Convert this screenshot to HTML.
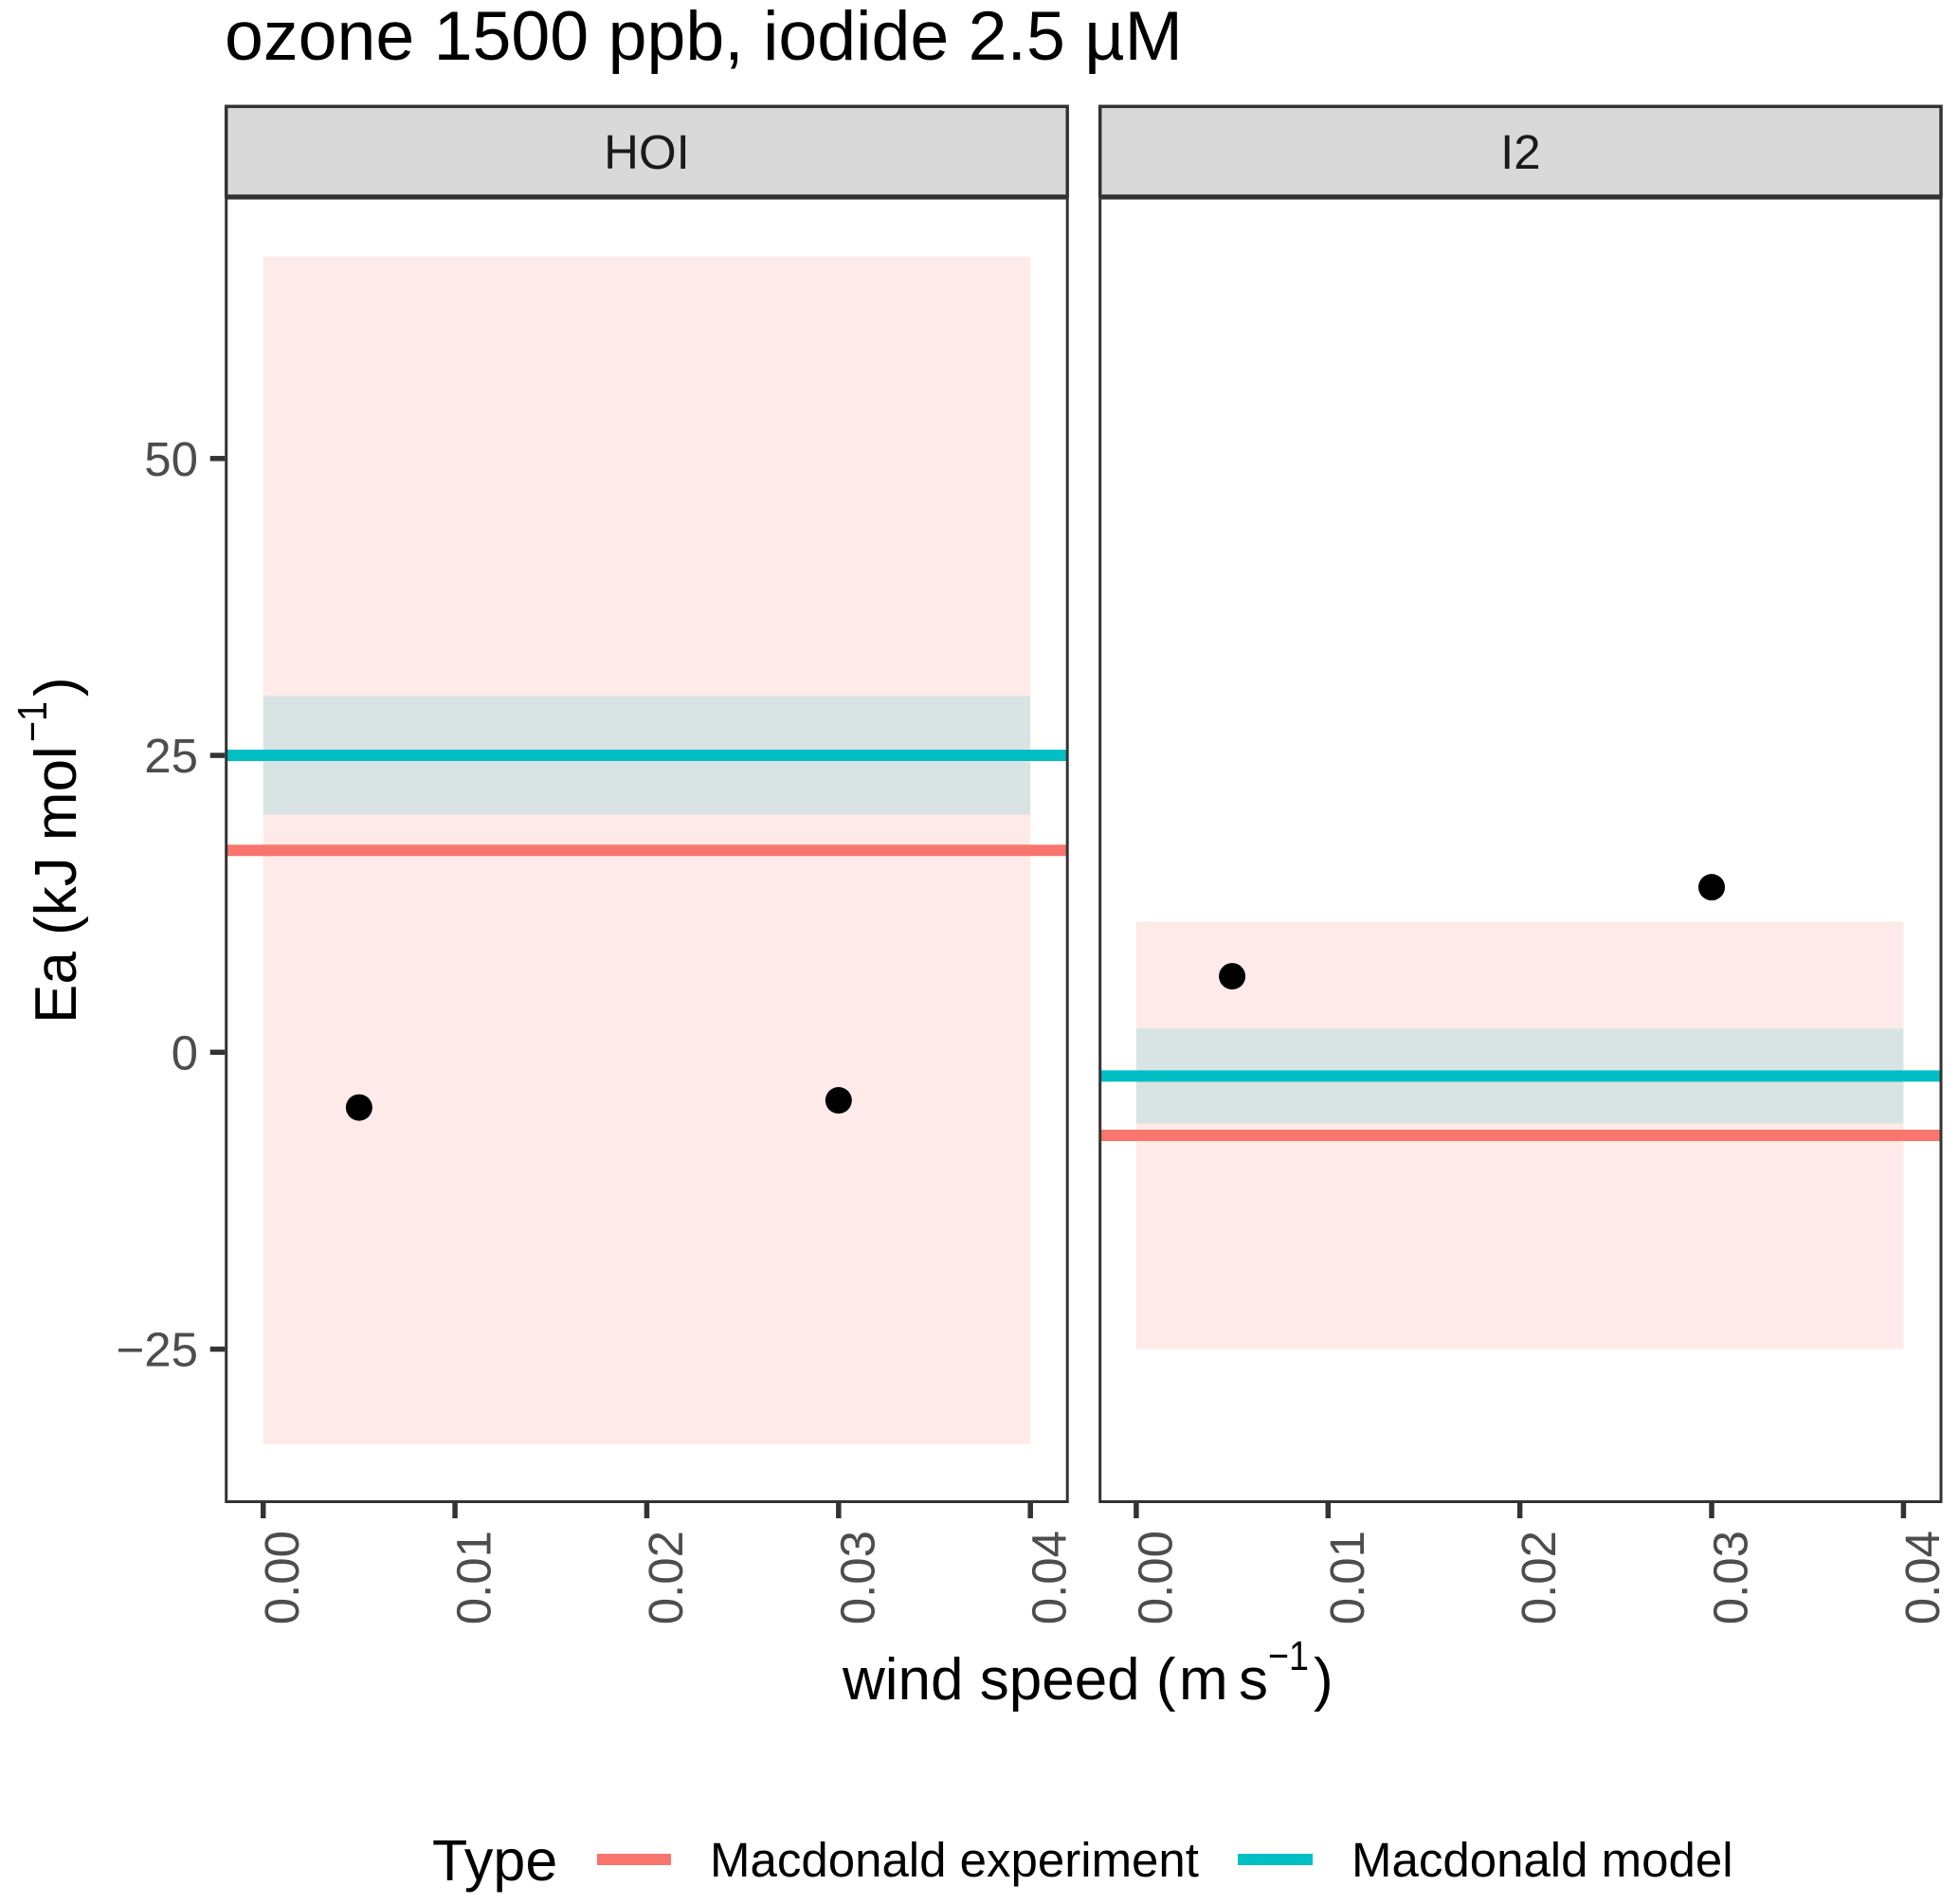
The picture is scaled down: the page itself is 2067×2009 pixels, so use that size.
<!DOCTYPE html>
<html lang="en">
<head>
<meta charset="utf-8">
<title>ozone 1500 ppb, iodide 2.5 µM</title>
<style>
html,body{margin:0;padding:0;background:#fff;}
svg{display:block;font-family:"Liberation Sans",Arial,sans-serif;}
</style>
</head>
<body>
<svg id="chart" xmlns="http://www.w3.org/2000/svg" width="2067" height="2009" viewBox="0 0 2067 2009">
  <rect x="0" y="0" width="2067" height="2009" fill="#ffffff"/>
  <text x="237" y="63" font-size="73.5" fill="#000">ozone 1500 ppb, iodide 2.5 µM</text>
  <g id="panels"></g>
  <g fill="#000">
    <text transform="translate(80,1080) rotate(-90)" font-size="62">Ea (kJ mol</text>
    <text transform="translate(49,783) rotate(-90)" font-size="44" textLength="43" lengthAdjust="spacingAndGlyphs">−1</text>
    <text transform="translate(80,735) rotate(-90)" font-size="62">)</text>
  </g>
  <g fill="#000">
    <text x="889" y="1793" font-size="62">wind speed (</text>
    <text x="1244" y="1793" font-size="62">m</text>
    <text x="1307" y="1793" font-size="62">s</text>
    <text x="1338" y="1762" font-size="44" textLength="43" lengthAdjust="spacingAndGlyphs">−1</text>
    <text x="1386" y="1793" font-size="62">)</text>
  </g>
  <g>
    <text x="456" y="1984" font-size="61" fill="#000">Type</text>
    <rect x="630" y="1956" width="78" height="12" fill="#F8766D"/>
    <text x="749" y="1980" font-size="51" fill="#000">Macdonald experiment</text>
    <rect x="1306" y="1956" width="79" height="12" fill="#00BFC4"/>
    <text x="1426" y="1980" font-size="51" fill="#000">Macdonald model</text>
  </g>
</svg>
<script>
const panelNames = ['HOI', 'I2'];
const xTickValues = [0, 0.01, 0.02, 0.03, 0.04];
const xTickLabels = ['0.00', '0.01', '0.02', '0.03', '0.04'];
const yTickValues = [-25, 0, 25, 50];
const yTickLabels = ['−25', '0', '25', '50'];
const experimentEa = [17, -7];
const experimentLow = [-33, -25];
const experimentHigh = [67, 11];
const modelEa = [25, -2];
const modelLow = [20, -6];
const modelHigh = [30, 2];
const pointWindHOI = [0.005, 0.03];
const pointEaHOI = [-4.65, -4.05];
const pointWindI2 = [0.005, 0.03];
const pointEaI2 = [6.4, 13.9];

const SVG_NS = 'http://www.w3.org/2000/svg';
const panelsRoot = document.getElementById('panels');
const panelLeft = [238.7, 1160.7];
const panelRight = [1126.2, 2048];
const xZero = [277.7, 1198.9];
const xPerUnit = 809.5 / 0.04;
const panelTop = 209;
const panelBottom = 1584.5;
const stripTop = 112.3;
const stripBottom = 207;

function yScale(v) { return 1110.3 - v * 12.53; }
function xScale(panel, v) { return xZero[panel] + v * xPerUnit; }

function make(tag, attrs, parent) {
  const el = document.createElementNS(SVG_NS, tag);
  Object.keys(attrs).forEach(function (k) { el.setAttribute(k, attrs[k]); });
  parent.appendChild(el);
  return el;
}

panelNames.forEach(function (name, p) {
  const key = name.toLowerCase();
  const L = panelLeft[p], R = panelRight[p];

  const group = make('g', {}, panelsRoot);
  
  

  const clip = make('clipPath', { id: 'clip-' + key }, group);
  make('rect', { x: L, y: panelTop, width: R - L, height: panelBottom - panelTop }, clip);

  const strip = make('rect', { x: L, y: stripTop, width: R - L, height: stripBottom - stripTop, fill: '#D9D9D9', stroke: '#333333', 'stroke-width': 3.5 }, group);
  
  

  const stripLabel = make('text', { x: (L + R) / 2, y: 178, 'font-size': 51, 'text-anchor': 'middle', fill: '#1A1A1A' }, group);
  stripLabel.textContent = name;
  
  

  const plot = make('g', { 'clip-path': 'url(#clip-' + key + ')' }, group);
  
  

  const x0 = xScale(p, 0), x1 = xScale(p, 0.04);

  const expBand = make('rect', { x: x0, y: yScale(experimentHigh[p]), width: x1 - x0, height: yScale(experimentLow[p]) - yScale(experimentHigh[p]), fill: '#F8766D', 'fill-opacity': 0.15 }, plot);
  
  

  const modBand = make('rect', { x: x0, y: yScale(modelHigh[p]), width: x1 - x0, height: yScale(modelLow[p]) - yScale(modelHigh[p]), fill: '#00BFC4', 'fill-opacity': 0.15 }, plot);
  
  

  const expLine = make('line', { x1: L, x2: R, y1: yScale(experimentEa[p]), y2: yScale(experimentEa[p]), stroke: '#F8766D', 'stroke-width': 12 }, plot);
  
  

  const modLine = make('line', { x1: L, x2: R, y1: yScale(modelEa[p]), y2: yScale(modelEa[p]), stroke: '#00BFC4', 'stroke-width': 12 }, plot);
  
  

  const winds = p === 0 ? pointWindHOI : pointWindI2;
  const eas = p === 0 ? pointEaHOI : pointEaI2;
  winds.forEach(function (w, i) {
    const dot = make('circle', { cx: xScale(p, w), cy: yScale(eas[i]), r: 14, fill: '#000' }, plot);
    
    
  });

  const border = make('rect', { x: L, y: panelTop, width: R - L, height: panelBottom - panelTop, fill: 'none', stroke: '#333333', 'stroke-width': 3 }, group);
  
  

  xTickValues.forEach(function (v, i) {
    const tx = xScale(p, v);
    const tick = make('line', { x1: tx, x2: tx, y1: panelBottom + 1.5, y2: 1602, stroke: '#333333', 'stroke-width': 5.5 }, group);
    
    

    const lab = make('text', { transform: 'translate(' + (tx + 37.5) + ',1615) rotate(-90)', 'font-size': 51, 'text-anchor': 'end', fill: '#4D4D4D' }, group);
    lab.textContent = xTickLabels[i];
    
    
  });
});

yTickValues.forEach(function (v, i) {
  const ty = yScale(v);
  const tick = make('line', { x1: 221.7, x2: 237.2, y1: ty, y2: ty, stroke: '#333333', 'stroke-width': 5.5 }, panelsRoot);
  
  

  const lab = make('text', { x: 209, y: ty + 18, 'font-size': 51, 'text-anchor': 'end', fill: '#4D4D4D' }, panelsRoot);
  lab.textContent = yTickLabels[i];
  
  
});
</script>
</body>
</html>
